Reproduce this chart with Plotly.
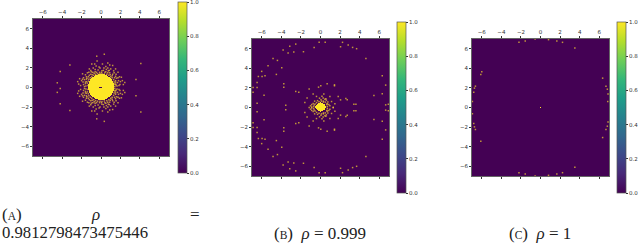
import numpy as np
import plotly.graph_objects as go

TICKS = [-6, -4, -2, 0, 2, 4, 6]
TICK_TEXT = ["\u22126", "\u22124", "\u22122", "0", "2", "4", "6"]
CB_TICKS = [0.0, 0.2, 0.4, 0.6, 0.8, 1.0]

# solid yellow core of each panel: row y, left x, right x
A_row_y = [1.3, 1.2, 1.1, 1.0, .9, .8, .7, .6, .5, .4, .3, .2, .1, 0, -.1, -.2, -.3, -.4, -.5, -.6, -.7, -.8, -.9, -1.0, -1.1, -1.2, -1.3]
A_row_l = [-.3, -.55, -.7, -.85, -.95, -1.05, -1.1, -1.15, -1.2, -1.2, -1.25, -1.25, -1.25, -1.3, -1.25, -1.25, -1.25, -1.2, -1.2, -1.15, -1.1, -1.05, -.95, -.85, -.7, -.55, -.3]
A_row_r = [.35, .6, .7, .85, 1.0, 1.05, 1.1, 1.15, 1.2, 1.25, 1.25, 1.25, 1.3, 1.3, 1.3, 1.25, 1.25, 1.25, 1.2, 1.15, 1.1, 1.05, 1.0, .85, .7, .6, .35]
A_hole_x = [-.05, .05, -.05, .05, -.15, .15]
A_hole_y = [.05, .05, -.05, -.05, .05, -.05]
B_row_y = [.5, .4, .3, .2, .1, 0, -.1, -.2, -.3, -.4, -.5]
B_row_l = [-.1, -.3, -.4, -.5, -.55, -.6, -.55, -.5, -.4, -.3, -.1]
B_row_r = [.1, .3, .45, .5, .55, .55, .55, .5, .45, .3, .1]
C_row_y = [.05, -.05]
C_row_l = [-.06, -.06]
C_row_r = [.06, .06]

# scattered cells
A_x = [-3.2, -4.2, -4.5, -4.2, -4.5, -4.2, -3.2, 3.6, 3.6, 4.1, 4.1, -.44, .34, -.44, .34,
       -1.9, -1.8, -2.2, -2.0, -1.7, -1.5, -1.4, -1.2, -1.0, -.9, -.8, -.6, -.5, -.3, -.4, -1.8, -2.1, -1.6, -2.4, -1.5, -1.7, -1.45, -1.2, -1.6, -1.05, -.7, -.15, -.2, -.95,
       .1, .3, .5, .7, .7, .75, .9, 1.0, 1.2, 1.3, 1.2, 1.5, 1.6, 1.75, 1.9, 1.5, 1.7, 2.2, 2.1, 1.5, 1.65, 2.3, 2.45, 1.35, .55, .15, .9, 1.75, 1.95,
       -1.9, -1.8, -2.2, -2.0, -1.7, -1.5, -1.4, -1.2, -1.0, -.9, -.8, -.6, -.5, -.3, -.4, -1.8, -2.1, -1.6, -2.4, -1.5, -1.7, -1.45, -1.2, -1.6, -1.05, -.7, -.15, -.2, -.95,
       .1, .3, .5, .7, .7, .75, .9, 1.0, 1.2, 1.3, 1.2, 1.5, 1.6, 1.75, 1.9, 1.5, 1.7, 2.2, 2.1, 1.5, 1.65, 2.3, 2.45, 1.35, .55, .15, .9, 1.75, 1.95,
       -1.35, -1.4, -1.3, -1.25, -1.1, -.95, -.75, -.55, -.35, -.1, .1, .35, .6, .8, 1.0, 1.15, 1.3, 1.35, 1.4, 1.42, -1.55, -1.6, -1.5, -1.3, -1.05, -.85, -.45, .05, .4, .7, .95, 1.15, 1.4, 1.5, 1.55, -1.85, -1.9, -1.25, -.6, .25, .85, 1.55, 1.8, 1.85, -.1, -.65, .5, 1.5, -2.3, 2.0,
       -1.35, -1.4, -1.3, -1.25, -1.1, -.95, -.75, -.55, -.35, -.1, .1, .35, .6, .8, 1.0, 1.15, 1.3, 1.35, 1.4, 1.42, -1.55, -1.6, -1.5, -1.3, -1.05, -.85, -.45, .05, .4, .7, .95, 1.15, 1.4, 1.5, 1.55, -1.85, -1.9, -1.25, -.6, .25, .85, 1.55, 1.8, 1.85, -.1, -.65, .5, 1.5, -2.3, 2.0]
A_y = [2.3, 1.64, .48, -.1, -.5, -1.67, -2.35, .82, -.85, 2.46, -2.5, 3.2, 3.4, -3.2, -3.46,
       1.4, 1.0, .9, .7, .8, 1.1, 1.5, 1.9, 1.6, 1.3, 2.0, 1.6, 2.2, 1.8, 2.7, .3, .2, .4, .6, .6, .1, .95, 1.25, 1.3, 1.75, 1.45, 1.55, 2.1, 2.4,
       1.7, 2.0, 1.6, 2.5, 2.0, 1.7, 1.5, 1.9, 2.25, 1.7, 1.35, 1.15, .95, 1.0, 1.1, .7, .5, .7, 1.05, .35, .15, .3, .5, 1.5, 1.85, 2.4, 2.3, 1.55, .3,
       -1.4, -1.0, -.9, -.7, -.8, -1.1, -1.5, -1.9, -1.6, -1.3, -2.0, -1.6, -2.2, -1.8, -2.7, -.3, -.2, -.4, -.6, -.6, -.1, -.95, -1.25, -1.3, -1.75, -1.45, -1.55, -2.1, -2.4,
       -1.7, -2.0, -1.6, -2.5, -2.0, -1.7, -1.5, -1.9, -2.25, -1.7, -1.35, -1.15, -.95, -1.0, -1.1, -.7, -.5, -.7, -1.05, -.35, -.15, -.3, -.5, -1.5, -1.85, -2.4, -2.3, -1.55, -.3,
       .2, .45, .65, .85, 1.0, 1.1, 1.25, 1.35, 1.4, 1.4, 1.42, 1.38, 1.35, 1.25, 1.1, 1.0, .8, .55, .35, .1, .15, .55, .85, 1.1, 1.35, 1.55, 1.55, 1.55, 1.55, 1.5, 1.3, 1.2, 1.0, .55, .25, .55, .85, 1.55, 1.85, 1.75, 1.75, 1.35, .7, .2, 2.0, 2.4, 2.15, 1.9, .35, .6,
       -.2, -.45, -.65, -.85, -1.0, -1.1, -1.25, -1.35, -1.4, -1.4, -1.42, -1.38, -1.35, -1.25, -1.1, -1.0, -.8, -.55, -.35, -.1, -.15, -.55, -.85, -1.1, -1.35, -1.55, -1.55, -1.55, -1.55, -1.5, -1.3, -1.2, -1.0, -.55, -.25, -.55, -.85, -1.55, -1.85, -1.75, -1.75, -1.35, -.7, -.2, -2.0, -2.4, -2.15, -1.9, -.35, -.6]

B_x = [-3.14, -2.53, -3.82, -3.31, -2.73, -1.74, -.65, -.14, .48, 2.25, 2.83, 3.28, 3.69, 2.05, 4.64, -4.85, -4.4, -5.36, -3.96, -6.01, -6.35, -5.97, -5.67, -6.48, -4.51, -3.75, -3.75, -6.89, -6.48, -2.53, -2.22, -6.89, -5.77, -6.48, 6.31, 6.66, 6.31, 5.46, 6.66, 6.93, 3.62, 3.41, -3.55,
       -1.16, -.2, .03, .68, 1.43, 1.43, .34, -.75, -.41, .27, .55, .96, -1.37, -1.6, -1.02, -1.16, 1.13, 1.47, 1.81, 2.05, 2.59, 2.73, .68, .96, 1.3, -.6, -.3, .6, .75, -.75, .3, -.9,
       -3.14, -2.53, -3.82, -3.31, -2.73, -1.74, -.65, -.14, .48, 2.25, 2.83, 3.28, 3.69, 2.05, 4.64, -4.85, -4.4, -5.36, -3.96, -6.01, -6.35, -5.97, -5.67, -6.48, -4.51, -3.75, -3.75, -6.89, -6.48, -2.53, -2.22, -6.89, -5.77, -6.48, 6.31, 6.66, 6.31, 5.46, 6.66, 6.93, 3.62, 3.41, -3.55,
       -1.16, -.2, .03, .68, 1.43, 1.43, .34, -.75, -.41, .27, .55, .96, -1.37, -1.6, -1.02, 1.13, 1.47, 1.81, 2.05, 2.59, 2.73, .68, .96, 1.3, -.6, -.3, .6, .75, -.75, .3, -.9,
       .7, .65, .5, .3, .1, -.15, -.4, -.55, -.7, -.65, -.9, .85, .45, -.1, .15, .05,
       .7, .65, .5, .3, .1, -.15, -.4, -.55, -.7, -.65, -.9, .85, .45, -.1, .15, .05]
B_y = [6.25, 6.48, 5.87, 5.56, 5.67, 5.7, 6.14, 6.66, 6.66, 6.66, 6.38, 6.14, 6.01, 6.21, 5.02, 5.02, 4.81, 4.27, 4.06, 3.69, 3.17, 3.17, 3.24, 2.56, 3.38, 2.42, 2.08, 2.05, 2.05, 1.64, 1.57, 1.57, 1.26, .44, 3.24, 2.29, 1.4, 1.23, .27, .34, .34, .34, .24,
       1.88, 2.08, 2.22, 2.42, 2.32, 2.22, 1.37, 1.37, 1.13, .96, .89, 1.13, .96, .51, .17, 0, .61, .38, 1.13, .78, .92, .78, .38, .17, .03, .65, .7, .75, .55, .4, .65, .3,
       -6.25, -6.48, -5.87, -5.56, -5.67, -5.7, -6.14, -6.66, -6.66, -6.66, -6.38, -6.14, -6.01, -6.21, -5.02, -5.02, -4.81, -4.27, -4.06, -3.69, -3.17, -3.17, -3.24, -2.56, -3.38, -2.42, -2.08, -2.05, -2.05, -1.64, -1.57, -1.57, -1.26, -.44, -3.24, -2.29, -1.4, -1.23, -.27, -.34, -.34, -.34, -.24,
       -1.88, -2.08, -2.22, -2.42, -2.32, -2.22, -1.37, -1.37, -1.13, -.96, -.89, -1.13, -.96, -.51, -.17, -.61, -.38, -1.13, -.78, -.92, -.78, -.38, -.17, -.03, -.65, -.7, -.75, -.55, -.4, -.65, -.3,
       .1, .3, .55, .55, .65, .6, .5, .35, .1, .25, .05, .3, .85, .95, 1.15, .8,
       -.1, -.3, -.55, -.55, -.65, -.6, -.5, -.35, -.1, -.25, -.05, -.3, -.85, -.95, -1.15, -.8]

C_x = [-2.2, -1.56, -.55, .82, 1.67, 2.25, 3.51, -6.0, -6.1, -6.65, -6.75, -6.82, -6.96, 6.35, 6.69, 6.83, 6.9, 6.87,
       -6.96, -6.82, -6.75, -6.65, -6.1, 3.51, -2.2, -1.56, -.55, .82, 1.67, 2.25, 6.9, 6.83, 6.69, 6.35]
C_y = [6.66, 6.8, 7.0, 6.93, 6.8, 6.66, 6.08, 3.65, 3.38, 2.18, 1.98, 1.57, .61, 3.0, 2.18, 1.87, 1.37, .61,
       -.65, -1.64, -1.98, -2.25, -3.45, -6.1, -6.66, -6.8, -7.0, -6.93, -6.8, -6.66, -1.47, -1.91, -2.25, -3.07]

POINT = "rgba(240,205,50,0.72)"
GRID = (np.arange(140) - 69.5) / 10

def row_of(v):
    return int(np.floor((v + 7) * 10 + 1e-6))

def cells(ry, rl, rr, hx=(), hy=()):
    z = np.zeros((140, 140))
    for y, l, r in zip(ry, rl, rr):
        z[row_of(y), (GRID >= l) & (GRID <= r)] = 1
    for x, y in zip(hx, hy):
        z[row_of(y), row_of(x)] = 0
    return z

W, H = 640, 243
panels = [
    dict(box=(33, 169, 19, 156), cb=(178, 2, 173), z=cells(A_row_y, A_row_l, A_row_r, A_hole_x, A_hole_y), x=A_x, y=A_y),
    dict(box=(252, 389, 39, 176), cb=(397, 22, 193), z=cells(B_row_y, B_row_l, B_row_r), x=B_x, y=B_y),
    dict(box=(472, 609, 39, 176), cb=(617, 22, 193), z=cells(C_row_y, C_row_l, C_row_r), x=C_x, y=C_y),
]

fig = go.Figure()
layout = {}
TF = dict(size=5.5, family="DejaVu Sans", color="#333")
for i, p in enumerate(panels, 1):
    l, r, t, b = p["box"]
    suffix = "" if i == 1 else str(i)
    cx, ct, cb = p["cb"]
    fig.add_trace(go.Heatmap(
        z=p["z"], x=GRID, y=GRID, zmin=0, zmax=1, colorscale="Viridis", hoverinfo="skip",
        xaxis="x" + suffix, yaxis="y" + suffix,
        colorbar=dict(x=cx / W, xanchor="left", xpad=0, ypad=0, y=1 - cb / H, yanchor="bottom",
                      len=(cb - ct), lenmode="pixels", thickness=9, thicknessmode="pixels",
                      tickvals=CB_TICKS, ticktext=[f"{v:.1f}" for v in CB_TICKS],
                      ticks="outside", ticklen=2, tickwidth=0.6, tickcolor="#333", tickfont=TF,
                      outlinewidth=0.7, outlinecolor="#555"),
    ))
    fig.add_trace(go.Scatter(
        x=p["x"], y=p["y"], mode="markers", xaxis="x" + suffix, yaxis="y" + suffix, showlegend=False,
        hoverinfo="skip", marker=dict(symbol="square", size=1.5, color=POINT, line=dict(width=0)),
    ))
    layout["xaxis" + suffix] = dict(
        domain=[l / W, r / W], range=[-7, 7], side="top", anchor="y" + suffix, tickvals=TICKS, ticktext=TICK_TEXT,
        ticks="outside", ticklen=2, tickwidth=0.6, tickcolor="#333", tickfont=TF,
        showline=True, linecolor="#666", linewidth=0.7, mirror="allticks", showgrid=False, zeroline=False)
    layout["yaxis" + suffix] = dict(
        domain=[1 - b / H, 1 - t / H], range=[-7, 7], anchor="x" + suffix, tickvals=TICKS, ticktext=TICK_TEXT,
        ticks="outside", ticklen=2, tickwidth=0.6, tickcolor="#333", tickfont=TF,
        showline=True, linecolor="#666", linewidth=0.7, mirror=True, showgrid=False, zeroline=False)

SC = '<span style="font-size:11.5px">{}</span>'
def label(x, y, text, anchor="left", size=17):
    return dict(x=x / W, y=1 - y / H, xref="paper", yref="paper", xanchor=anchor, yanchor="middle", text=text,
                showarrow=False, align="left", font=dict(family="Liberation Serif", size=size, color="#222"))

fig.update_layout(
    width=W, height=H, margin=dict(l=0, r=0, t=0, b=0, autoexpand=False),
    paper_bgcolor="white", plot_bgcolor="#440154", showlegend=False,
    font=dict(family="DejaVu Sans"),
    annotations=[
        label(0, 214, "(" + SC.format("A") + ")"),
        label(95, 214, "<i>\u03c1</i>", "center"),
        label(195, 214, "=", "center"),
        label(0, 232, "0.9812798473475446", size=16.7),
        label(272, 233, "(" + SC.format("B") + ")  <i>\u03c1</i> = 0.999"),
        label(507, 233, "(" + SC.format("C") + ")  <i>\u03c1</i> = 1"),
        dict(x=189 / W, y=1 - 2 / H, xref="paper", yref="paper", xanchor="left", yanchor="middle", text="1.0",
             showarrow=False, borderpad=0, font=TF),
    ],
    **layout,
)
fig.write_html("out.html", config={"displayModeBar": False},
               post_script="document.body.style.margin='0';document.body.style.overflow='hidden';")
